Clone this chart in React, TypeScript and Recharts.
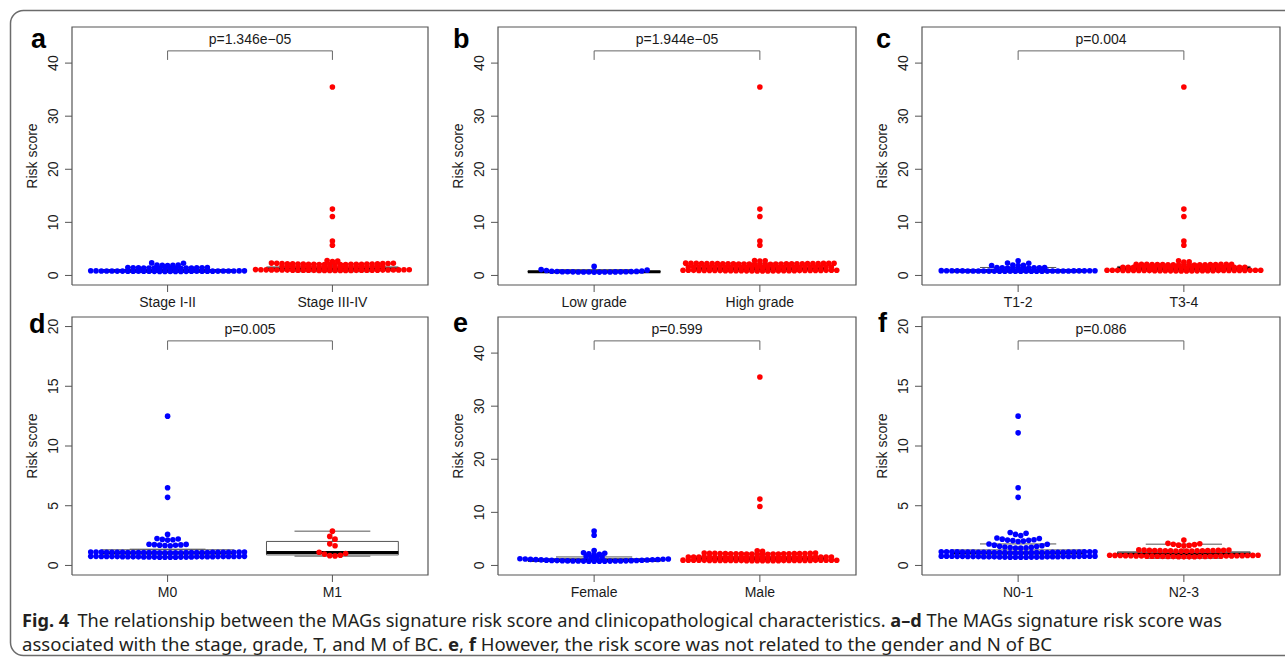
import { ComposedChart, Scatter, Line, XAxis, YAxis, Label } from 'recharts'

// risk scores (one entry per dot)
const stageEarly = [
  0.74, 0.75, 0.75, 0.76, 0.76, 0.77, 0.77, 0.78, 0.78, 0.78, 0.79, 0.79, 0.8, 0.8, 0.8,
  0.81, 0.81, 0.82, 0.82, 0.82, 0.83, 0.83, 0.84, 0.84, 0.85, 0.85, 0.86, 0.86, 0.87, 0.88,
  1.32, 1.33, 1.34, 1.35, 1.36, 1.37, 1.38, 1.39, 1.4, 1.41, 1.42, 1.43, 1.44, 1.45, 1.47, 1.48,
  1.88, 1.9, 1.92, 1.95, 1.98, 2.3, 2.36
]
const stageLate = [
  0.92, 0.93, 0.93, 0.94, 0.94, 0.95, 0.95, 0.96, 0.96, 0.97, 0.97, 0.98, 0.98, 0.99, 0.99,
  1.0, 1.0, 1.01, 1.01, 1.02, 1.02, 1.03, 1.03, 1.04, 1.04, 1.05, 1.06, 1.07, 1.08, 1.1,
  1.5, 1.51, 1.52, 1.53, 1.54, 1.55, 1.56, 1.57, 1.58, 1.59, 1.6, 1.61, 1.62, 1.63, 1.64,
  1.65, 1.66, 1.68, 1.7, 1.72,
  2.02, 2.03, 2.04, 2.05, 2.06, 2.07, 2.08, 2.09, 2.1, 2.11, 2.12, 2.13, 2.14, 2.15, 2.16,
  2.17, 2.18, 2.2, 2.22, 2.24, 2.26, 2.28, 2.3, 2.33,
  2.62, 2.7, 2.8, 5.7, 6.5, 11.1, 12.5, 35.5
]
const gradeLow = [
  0.62, 0.63, 0.64, 0.65, 0.65, 0.66, 0.66, 0.67, 0.68, 0.68, 0.69, 0.7, 0.7, 0.72, 0.74,
  0.76, 0.8, 0.85, 0.92, 1.0, 1.1, 1.7
]
const gradeHigh = [
  0.84, 0.85, 0.85, 0.86, 0.86, 0.87, 0.87, 0.88, 0.88, 0.89, 0.89, 0.9, 0.9, 0.9, 0.91,
  0.91, 0.92, 0.92, 0.93, 0.93, 0.94, 0.94, 0.95, 0.95, 0.96, 0.96, 0.97, 0.97, 0.98, 0.98,
  1.45, 1.46, 1.46, 1.47, 1.47, 1.48, 1.49, 1.5, 1.5, 1.51, 1.51, 1.52, 1.52, 1.53, 1.54,
  1.54, 1.55, 1.55, 1.56, 1.56, 1.57, 1.57, 1.58, 1.58, 1.59, 1.59, 1.6, 1.6,
  2.1, 2.11, 2.12, 2.12, 2.13, 2.14, 2.15, 2.15, 2.16, 2.17, 2.18, 2.18, 2.19, 2.2, 2.2,
  2.21, 2.22, 2.23, 2.23, 2.24, 2.25, 2.26, 2.26, 2.27, 2.28, 2.29, 2.3, 2.31, 2.32,
  2.7, 2.75, 2.8, 5.7, 6.5, 11.1, 12.5, 35.5
]
const tEarly = [
  0.78, 0.78, 0.79, 0.79, 0.8, 0.8, 0.8, 0.81, 0.81, 0.82, 0.82, 0.82, 0.83, 0.83, 0.84,
  0.84, 0.84, 0.85, 0.85, 0.85, 0.86, 0.86, 0.87, 0.87, 0.87, 0.88, 0.88, 0.89, 0.89, 0.9,
  1.35, 1.36, 1.38, 1.39, 1.41, 1.42, 1.44, 1.45, 1.47, 1.5,
  1.85, 1.88, 1.92, 1.96, 2.3, 2.35, 2.75
]
const tLate = [
  0.85, 0.85, 0.86, 0.86, 0.87, 0.87, 0.88, 0.88, 0.89, 0.89, 0.9, 0.9, 0.91, 0.91, 0.92,
  0.92, 0.93, 0.93, 0.93, 0.94, 0.94, 0.95, 0.95, 0.95, 0.96, 0.96, 0.97, 0.97, 0.98, 0.98,
  1.4, 1.41, 1.41, 1.42, 1.43, 1.43, 1.44, 1.45, 1.45, 1.46, 1.47, 1.47, 1.48, 1.49, 1.49,
  1.5, 1.51, 1.51, 1.52, 1.52, 1.53, 1.54, 1.54, 1.55,
  1.95, 1.96, 1.97, 1.98, 1.99, 2.0, 2.01, 2.02, 2.03, 2.04, 2.05, 2.06, 2.07, 2.08, 2.09,
  2.1, 2.1, 2.11, 2.12,
  2.5, 2.55, 2.75, 5.7, 6.5, 11.1, 12.5, 35.5
]
const mZero = [
  0.68, 0.68, 0.69, 0.69, 0.7, 0.7, 0.7, 0.71, 0.71, 0.71, 0.72, 0.72, 0.72, 0.72, 0.73,
  0.73, 0.73, 0.73, 0.74, 0.74, 0.74, 0.74, 0.75, 0.75, 0.75, 0.75, 0.76, 0.76, 0.76, 0.76,
  1.05, 1.05, 1.06, 1.06, 1.06, 1.07, 1.07, 1.07, 1.08, 1.08, 1.08, 1.08, 1.09, 1.09, 1.09,
  1.09, 1.1, 1.1, 1.1, 1.1, 1.1, 1.11, 1.11, 1.11, 1.11, 1.12, 1.12, 1.12, 1.12, 1.12,
  1.65, 1.67, 1.69, 1.7, 1.72, 1.74, 1.76, 1.78,
  2.12, 2.15, 2.18, 2.21, 2.25, 2.6, 5.7, 6.5, 12.5
]
const mOne = [0.8, 0.82, 0.85, 0.95, 1.0, 1.1, 1.65, 1.81, 2.2, 2.43, 2.87]
const female = [
  0.8, 0.8, 0.81, 0.81, 0.82, 0.82, 0.83, 0.83, 0.84, 0.85, 0.86, 0.87, 0.88, 0.9, 0.91,
  0.93, 0.95, 0.97, 1.0, 1.02, 1.05, 1.08, 1.1, 1.12, 1.15, 1.18, 1.2, 1.22, 1.25,
  1.5, 1.55, 1.6, 1.7, 2.05, 2.1, 2.2, 2.3, 2.4, 2.8, 5.7, 6.5
]
const male = [
  0.88, 0.88, 0.89, 0.89, 0.9, 0.9, 0.9, 0.91, 0.91, 0.92, 0.92, 0.92, 0.93, 0.93, 0.94,
  0.94, 0.94, 0.95, 0.95, 0.95, 0.96, 0.96, 0.97, 0.97, 0.97, 0.98, 0.98, 0.99, 0.99, 1.0,
  1.45, 1.46, 1.46, 1.47, 1.47, 1.48, 1.49, 1.5, 1.5, 1.51, 1.51, 1.52, 1.52, 1.53, 1.54,
  1.54, 1.55, 1.55, 1.56, 1.56, 1.57, 1.57, 1.58, 1.58, 1.59, 1.59, 1.6, 1.6,
  2.1, 2.11, 2.12, 2.13, 2.14, 2.15, 2.16, 2.17, 2.18, 2.19, 2.2, 2.21, 2.22, 2.23, 2.24,
  2.25, 2.26, 2.28, 2.3, 2.31, 2.33, 2.35,
  2.65, 2.75, 11.1, 12.5, 35.5
]
const nEarly = [
  0.68, 0.68, 0.69, 0.69, 0.7, 0.7, 0.7, 0.71, 0.71, 0.72, 0.72, 0.72, 0.73, 0.73, 0.73,
  0.74, 0.74, 0.74, 0.75, 0.75, 0.75, 0.76, 0.76, 0.76, 0.77, 0.77, 0.77, 0.78, 0.78, 0.78,
  1.05, 1.05, 1.06, 1.06, 1.07, 1.07, 1.08, 1.08, 1.08, 1.09, 1.09, 1.1, 1.1, 1.1, 1.11,
  1.11, 1.11, 1.12, 1.12, 1.12, 1.13, 1.13, 1.13, 1.14, 1.14, 1.14, 1.15, 1.15, 1.15, 1.15,
  1.45, 1.46, 1.48, 1.5, 1.52, 1.55, 1.58, 1.6, 1.65, 1.7, 1.78, 1.8,
  2.0, 2.04, 2.08, 2.1, 2.12, 2.15, 2.2, 2.25, 2.3,
  2.5, 2.6, 2.7, 2.76, 5.7, 6.5, 11.1, 12.5
]
const nLate = [
  0.72, 0.72, 0.73, 0.73, 0.74, 0.74, 0.75, 0.75, 0.76, 0.76, 0.77, 0.77, 0.78, 0.78, 0.78,
  0.79, 0.79, 0.8, 0.8, 0.81, 0.81, 0.82, 0.82, 0.83, 0.83, 0.84, 0.84, 0.85, 0.85,
  1.2, 1.2, 1.21, 1.21, 1.22, 1.22, 1.23, 1.23, 1.24, 1.24, 1.25, 1.25, 1.26, 1.26, 1.27,
  1.28, 1.29, 1.3,
  1.65, 1.68, 1.7, 1.74, 1.78, 1.82, 1.85, 2.12
]

// boxplot stats: [lower whisker, q1, median, q3, upper whisker]
const stageEarlyBox = [0.6, 0.75, 0.82, 1.1, 1.5]
const stageLateBox = [0.7, 0.95, 1.2, 1.6, 2.2]
const gradeLowBox = [0.6, 0.66, 0.7, 0.76, 1.1]
const gradeHighBox = [0.8, 0.92, 1.3, 1.8, 2.3]
const tEarlyBox = [0.7, 0.8, 0.85, 1.1, 1.5]
const tLateBox = [0.8, 0.93, 1.3, 1.7, 2.1]
const mZeroBox = [0.68, 0.75, 1.05, 1.31, 1.36]
const mOneBox = [0.78, 0.88, 1.09, 2.01, 2.87]
const femaleBox = [0.75, 0.85, 1.0, 1.25, 1.6]
const maleBox = [0.85, 0.95, 1.3, 1.7, 2.3]
const nEarlyBox = [0.65, 0.72, 1.05, 1.3, 1.8]
const nLateBox = [0.6, 0.78, 0.95, 1.14, 1.78]

const stageLabels = ['Stage I-II', 'Stage III-IV']
const gradeLabels = ['Low grade', 'High grade']
const tLabels = ['T1-2', 'T3-4']
const mLabels = ['M0', 'M1']
const genderLabels = ['Female', 'Male']
const nLabels = ['N0-1', 'N2-3']

const pValues = ['p=1.346e\u221205', 'p=1.944e\u221205', 'p=0.004', 'p=0.005', 'p=0.599', 'p=0.086']
const wideTicks = [0, 10, 20, 30, 40]
const narrowTicks = [0, 5, 10, 15, 20]

const FONT = "'Liberation Sans', Arial, Helvetica, sans-serif"
const GREY = '#555'
const BLUE = '#0000ff'
const RED = '#ff0000'
const X_DOMAIN: [number, number] = [0.42, 2.58]
const PLOT_H = 258
const DOT_R = 2.8
const DOT_SPACING = 5.3
const CORRAL = 78
const BOX_HALF = 0.4
const CAP_HALF = 0.23

interface PanelDef {
  letter: string
  letterX: number
  letterY: number
  boxLeft: number
  boxTop: number
  boxW: number
  yDomain: [number, number]
  yTicks: number[]
  rowGap: number
  bracket: [number, number, number] // tick end, bar, label
  labels: string[]
  pLabel: string
  left: number[]
  right: number[]
  leftBox: number[]
  rightBox: number[]
}

const WIDE: Pick<PanelDef, 'yDomain' | 'yTicks' | 'rowGap' | 'bracket'> = {
  yDomain: [-1.8, 46.8], yTicks: wideTicks, rowGap: 0.5, bracket: [40.6, 42.3, 44.5]
}
const NARROW: Pick<PanelDef, 'yDomain' | 'yTicks' | 'rowGap' | 'bracket'> = {
  yDomain: [-0.8, 20.8], yTicks: narrowTicks, rowGap: 0.35, bracket: [18.05, 18.8, 19.8]
}

const panels: PanelDef[] = [
  { letter: 'a', letterX: 31, letterY: 48, boxLeft: 72, boxTop: 27, boxW: 356, ...WIDE,
    labels: stageLabels, pLabel: pValues[0], left: stageEarly, right: stageLate, leftBox: stageEarlyBox, rightBox: stageLateBox },
  { letter: 'b', letterX: 453, letterY: 48, boxLeft: 498, boxTop: 27, boxW: 358, ...WIDE,
    labels: gradeLabels, pLabel: pValues[1], left: gradeLow, right: gradeHigh, leftBox: gradeLowBox, rightBox: gradeHighBox },
  { letter: 'c', letterX: 876, letterY: 48, boxLeft: 922, boxTop: 27, boxW: 358, ...WIDE,
    labels: tLabels, pLabel: pValues[2], left: tEarly, right: tLate, leftBox: tEarlyBox, rightBox: tLateBox },
  { letter: 'd', letterX: 29, letterY: 333, boxLeft: 72, boxTop: 317, boxW: 356, ...NARROW,
    labels: mLabels, pLabel: pValues[3], left: mZero, right: mOne, leftBox: mZeroBox, rightBox: mOneBox },
  { letter: 'e', letterX: 453, letterY: 332, boxLeft: 498, boxTop: 317, boxW: 358, ...WIDE,
    labels: genderLabels, pLabel: pValues[4], left: female, right: male, leftBox: femaleBox, rightBox: maleBox },
  { letter: 'f', letterX: 878, letterY: 332, boxLeft: 922, boxTop: 317, boxW: 358, ...NARROW,
    labels: nLabels, pLabel: pValues[5], left: nEarly, right: nLate, leftBox: nEarlyBox, rightBox: nLateBox }
]

// beeswarm-ish layout: values grouped in rows, lowest in the middle, wrapped inside a corral
function swarmPoints(values: number[], center: number, rowGap: number, unitPx: number) {
  const sorted = [...values].sort((a, b) => a - b)
  const rows: number[][] = []
  sorted.forEach(v => {
    const row = rows[rows.length - 1]
    if (row && v - row[0] <= rowGap + 1e-9) row.push(v)
    else rows.push([v])
  })
  const pts: { x: number; y: number }[] = []
  rows.forEach(row => {
    const n = row.length
    const slots = row
      .map((_, j) => (j - (n - 1) / 2) * DOT_SPACING)
      .sort((a, b) => Math.abs(a) - Math.abs(b) || b - a)
    row.forEach((v, i) => {
      let off = slots[i]
      while (off > CORRAL) off -= 2 * CORRAL
      while (off < -CORRAL) off += 2 * CORRAL
      pts.push({ x: center + off / unitPx, y: v })
    })
  })
  return pts
}

function boxParts(c: number, stats: number[]) {
  const [lo, q1, med, q3, hi] = stats
  return {
    rect: [
      { x: c - BOX_HALF, y: q1 }, { x: c + BOX_HALF, y: q1 }, { x: c + BOX_HALF, y: q3 },
      { x: c - BOX_HALF, y: q3 }, { x: c - BOX_HALF, y: q1 }
    ],
    median: [{ x: c - BOX_HALF, y: med }, { x: c + BOX_HALF, y: med }],
    upper: [{ x: c, y: q3 }, { x: c, y: hi }],
    lower: [{ x: c, y: q1 }, { x: c, y: lo }],
    capHi: [{ x: c - CAP_HALF, y: hi }, { x: c + CAP_HALF, y: hi }],
    capLo: [{ x: c - CAP_HALF, y: lo }, { x: c + CAP_HALF, y: lo }]
  }
}

const dotShape = (color: string) => (props: any) =>
  props.cx == null ? <g /> : <circle cx={props.cx} cy={props.cy} r={DOT_R} fill={color} />

const YTick = (props: any) => {
  const { x, y, payload } = props
  const bx = x - 5
  return (
    <text x={bx} y={y} transform={`rotate(-90 ${bx} ${y})`} textAnchor="middle" fontSize={14} fontFamily={FONT} fill="#1a1a1a">
      {payload.value}
    </text>
  )
}

function Panel({ panel }: { panel: PanelDef }) {
  const unitPx = panel.boxW / (X_DOMAIN[1] - X_DOMAIN[0])
  const leftPts = swarmPoints(panel.left, 1, panel.rowGap, unitPx)
  const rightPts = swarmPoints(panel.right, 2, panel.rowGap, unitPx)
  const boxes = [boxParts(1, panel.leftBox), boxParts(2, panel.rightBox)]
  const [y0, y1] = panel.yDomain
  const frame = [
    { x: X_DOMAIN[0], y: y0 }, { x: X_DOMAIN[1], y: y0 }, { x: X_DOMAIN[1], y: y1 },
    { x: X_DOMAIN[0], y: y1 }, { x: X_DOMAIN[0], y: y0 }
  ]
  const [tickEnd, bar, labelY] = panel.bracket
  const bracket = [{ x: 1, y: tickEnd }, { x: 1, y: bar }, { x: 2, y: bar }, { x: 2, y: tickEnd }]
  const pLabel = [{ x: 1.5, y: labelY }]

  const lineProps = { type: 'linear' as const, dataKey: 'y', dot: false, activeDot: false, isAnimationActive: false, legendType: 'none' as const }

  return (
    <div style={{ position: 'absolute', left: panel.boxLeft - 72, top: panel.boxTop - 27 }}>
      <ComposedChart width={72 + panel.boxW + 4} height={27 + PLOT_H + 32} margin={{ top: 27, right: 4, bottom: 0, left: 0 }}>
        <XAxis
          type="number"
          dataKey="x"
          domain={X_DOMAIN}
          ticks={[1, 2]}
          tickFormatter={(v: number) => panel.labels[v - 1]}
          axisLine={false}
          tickLine={{ stroke: GREY }}
          tickSize={7}
          tickMargin={5}
          height={32}
          tick={{ fontSize: 14, fontFamily: FONT, fill: '#1a1a1a' }}
          interval={0}
        />
        <YAxis
          type="number"
          dataKey="y"
          domain={panel.yDomain}
          ticks={panel.yTicks}
          axisLine={false}
          tickLine={{ stroke: GREY }}
          tickSize={7}
          tickMargin={2}
          width={72}
          tick={<YTick />}
          interval={0}
        >
          <Label
            content={(p: any) => {
              const vb = p.viewBox || { x: 0, y: 27, width: 72, height: PLOT_H }
              const lx = vb.x + vb.width - 35
              const ly = vb.y + vb.height / 2
              return (
                <text x={lx} y={ly} transform={`rotate(-90 ${lx} ${ly})`} textAnchor="middle" fontSize={14} fontFamily={FONT} fill="#1a1a1a">
                  Risk score
                </text>
              )
            }}
          />
        </YAxis>
        <Line data={frame} {...lineProps} stroke={GREY} strokeWidth={1.2} />
        {boxes.map((b, i) => [
          <Line key={`r${i}`} data={b.rect} {...lineProps} stroke={GREY} strokeWidth={1} />,
          <Line key={`u${i}`} data={b.upper} {...lineProps} stroke={GREY} strokeWidth={1} strokeDasharray="4 3" />,
          <Line key={`l${i}`} data={b.lower} {...lineProps} stroke={GREY} strokeWidth={1} strokeDasharray="4 3" />,
          <Line key={`ch${i}`} data={b.capHi} {...lineProps} stroke={GREY} strokeWidth={1} />,
          <Line key={`cl${i}`} data={b.capLo} {...lineProps} stroke={GREY} strokeWidth={1} />,
          <Line key={`m${i}`} data={b.median} {...lineProps} stroke="#000" strokeWidth={3} />
        ])}
        <Line data={bracket} {...lineProps} stroke="#666" strokeWidth={1} />
        <Scatter data={leftPts} dataKey="y" shape={dotShape(BLUE)} isAnimationActive={false} />
        <Scatter data={rightPts} dataKey="y" shape={dotShape(RED)} isAnimationActive={false} />
        <Scatter
          data={pLabel}
          dataKey="y"
          isAnimationActive={false}
          shape={(p: any) => (
            <text x={p.cx} y={p.cy} dy="0.35em" textAnchor="middle" fontSize={14} fontFamily={FONT} fill="#1a1a1a">
              {panel.pLabel}
            </text>
          )}
        />
      </ComposedChart>
    </div>
  )
}

export default function App() {
  const capFont = "'Noto Sans', 'Open Sans', sans-serif"
  return (
    <div style={{ position: 'absolute', left: 0, top: 0, width: 1285, height: 664, background: '#fff', overflow: 'hidden' }}>
      <svg width={1285} height={664} style={{ position: 'absolute', left: 0, top: 0 }}>
        <rect x={10.5} y={10.5} width={1300} height={645} rx={13} ry={13} fill="none" stroke="#6b6b6b" strokeWidth={1.5} />
        {panels.map(p => (
          <text key={p.letter} x={p.letterX} y={p.letterY} fontSize={27} fontWeight="bold" fontFamily={FONT} fill="#000">
            {p.letter}
          </text>
        ))}
        <text x={22} y={627} fontSize={17.5} fontFamily={capFont} fill="#231f20" textLength={1200} lengthAdjust="spacingAndGlyphs">
          <tspan fontWeight="bold">Fig. 4</tspan>
          <tspan dx={8}>{'The relationship between the MAGs signature risk score and clinicopathological characteristics. '}</tspan>
          <tspan fontWeight="bold">{'a\u2013d'}</tspan>
          <tspan>{' The MAGs signature risk score was'}</tspan>
        </text>
        <text x={22} y={651} fontSize={17.5} fontFamily={capFont} fill="#231f20" textLength={1030} lengthAdjust="spacingAndGlyphs">
          <tspan>{'associated with the stage, grade, T, and M of BC. '}</tspan>
          <tspan fontWeight="bold">e</tspan>
          <tspan>{', '}</tspan>
          <tspan fontWeight="bold">f</tspan>
          <tspan>{' However, the risk score was not related to the gender and N of BC'}</tspan>
        </text>
      </svg>
      {panels.map(p => (
        <Panel key={p.letter} panel={p} />
      ))}
    </div>
  )
}
